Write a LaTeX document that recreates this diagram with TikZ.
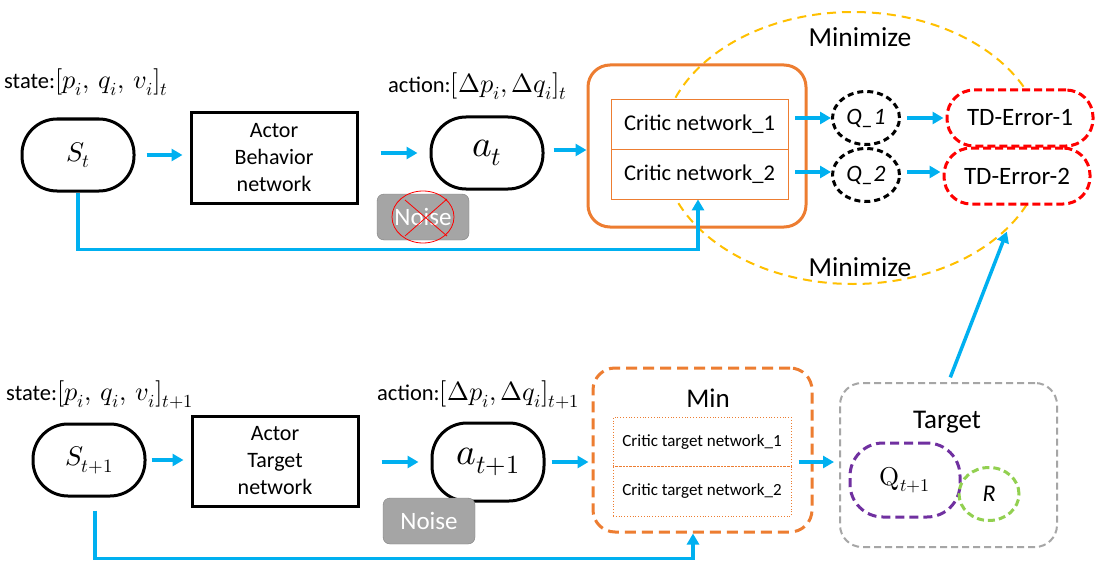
\documentclass[tikz,border=0pt]{standalone}
\usepackage{fontspec}
\usepackage{unicode-math}
\setmainfont{Carlito}
\setmathfont{Latin Modern Math}[Scale=1.17]
\usetikzlibrary{arrows.meta,shapes.geometric}
\definecolor{cblue}{HTML}{00B0F0}
\definecolor{corange}{HTML}{ED7D31}
\definecolor{cred}{HTML}{FF0000}
\definecolor{cyellow}{HTML}{FFC000}
\definecolor{cpurple}{HTML}{7030A0}
\definecolor{cgreen}{HTML}{92D050}
\definecolor{cgray}{HTML}{A6A6A6}
\definecolor{cnoise}{HTML}{A5A5A5}
\newcommand{\fs}[2]{\fontsize{#1}{#2}\selectfont}
\tikzset{
  pill/.style={draw=black, line width=3pt, rounded corners=35pt, minimum width=112pt, minimum height=72pt, inner sep=0pt},
  actorbox/.style={draw=black, line width=3pt, minimum width=166pt, minimum height=90pt, align=center, font=\fs{22}{27}},
  barrow/.style={draw=cblue, line width=3.5pt, -{Triangle[length=11pt,width=12pt]}},
  noisebox/.style={draw=gray, fill=cnoise, rounded corners=7pt, minimum width=92pt, minimum height=46pt, text=white, font=\fs{25}{28}},
  qnode/.style={draw=black, line width=3pt, dash pattern=on 6pt off 4pt, ellipse, minimum width=67pt, minimum height=53pt, inner sep=0pt, font=\fs{23.5}{26}\itshape},
  tdnode/.style={draw=cred, fill=white, line width=3pt, dash pattern=on 8pt off 4pt, rounded corners=27pt, minimum width=146pt, minimum height=56pt, font=\fs{25}{28}},
  critic/.style={draw=corange, fill=white, line width=0.8pt, minimum width=177pt, minimum height=50pt, font=\fs{22.5}{25}},
  ctarget/.style={draw=corange, fill=white, line width=0.8pt, dotted, minimum width=178pt, minimum height=49.5pt, font=\fs{17}{20}},
  lbl/.style={font=\fs{22.5}{26}, inner sep=0pt},
}
\begin{document}
\begin{tikzpicture}[x=1pt,y=-1pt]
\useasboundingbox (0,0) rectangle (1099,567);
\fill[white] (0,0) rectangle (1099,567);

% yellow minimize ellipse
\draw[cyellow, line width=2pt, dash pattern=on 9pt off 6pt] (853,148) ellipse [x radius=191, y radius=136];
\node[lbl, font=\fs{27.5}{31}] (min1) at (860,37) {Minimize};
\node[lbl, font=\fs{27.5}{31}] (min2) at (860,267) {Minimize};

% ---------- top row ----------
\node[lbl, anchor=west] (slab) at (4,82) {state:$[p_i,\,q_i,\,v_i]_t$};
\node[pill, font=\fs{23}{28}] (st) at (78,155) {$S_t$};
\node[actorbox] (ab) at (274,158) {Actor\\Behavior\\network};
\node[lbl, anchor=west] (alab) at (388,86) {action:$[\Delta p_i,\Delta q_i]_t$};
\node[pill, font=\fs{32}{36}] (at) at (487,153) {$a_t$};
\node[noisebox] (n1) at (423,217) {Noise};
\draw[cred, line width=0.8pt] (n1.center) ellipse [x radius=31, y radius=26];
\draw[cred, line width=0.8pt] (405,200) -- (447,236) (447,199) -- (405,236);

\node[draw=corange, line width=3pt, rounded corners=22pt, minimum width=218pt, minimum height=162pt] (crit) at (697,146) {};
\node[critic] (cn1) at (699.5,124) {Critic network\_1};
\node[critic] (cn2) at (699.5,174) {Critic network\_2};

\node[qnode] (q1) at (866,118) {Q\_1};
\node[qnode] (q2) at (866,175) {Q\_2};
\node[tdnode] (td1) at (1020,118) {TD-Error-1};
\node[tdnode] (td2) at (1017,176) {TD-Error-2};

\draw[barrow, shorten <=11pt, shorten >=7pt] (st.east) -- (ab.west |- st.east);
\draw[barrow, shorten <=22pt, shorten >=12pt] (ab.east |- at.west) -- (at.west);
\draw[barrow, shorten <=9pt] ([yshift=3pt]at.east) -- ([yshift=3pt]crit.west |- at.east);
\draw[barrow, shorten <=7pt] (cn1.east |- q1.west) -- (q1.west);
\draw[barrow, shorten <=7pt] ([yshift=3pt]cn2.east |- q2.west) -- ([yshift=3pt]q2.west);
\draw[barrow, shorten <=6pt, shorten >=2pt] (q1.east) -- (td1.west |- q1.east);
\draw[barrow, shorten <=6pt, shorten >=2pt] ([yshift=3pt]q2.east) -- ([yshift=3pt]td2.west |- q2.east);
\draw[barrow] (st.south) |- ([xshift=-1.5pt,yshift=-50pt]cn2.south) -- ([xshift=-1.5pt]cn2.south);

% ---------- bottom row ----------
\node[lbl, anchor=west] (slab2) at (6,395) {state:$[p_i,\,q_i,\,v_i]_{t+1}$};
\node[pill, font=\fs{23}{28}] (st1) at (89,460) {$S_{t+1}$};
\node[actorbox] (at2) at (275,461) {Actor\\Target\\network};
\node[lbl, anchor=west] (alab2) at (377,395) {action:$[\Delta p_i,\Delta q_i]_{t+1}$};
\node[pill, font=\fs{32}{36}, minimum height=78pt] (a1) at (488,462) {$a_{t+1}$};
\node[noisebox] (n2) at (429,521) {Noise};

\node[draw=corange, line width=3pt, dash pattern=on 11pt off 6pt, rounded corners=22pt, minimum width=219pt, minimum height=164pt] (minb) at (702.5,450) {};
\node[lbl, font=\fs{27}{31}] (mintxt) at (708,398) {Min};
\node[ctarget] (ct1) at (702,442) {Critic target network\_1};
\node[ctarget] (ct2) at (702,491.5) {Critic target network\_2};

\node[draw=cgray, line width=2pt, dash pattern=on 7pt off 4pt, rounded corners=22pt, minimum width=217pt, minimum height=164pt] (tgt) at (948.5,465) {};
\node[lbl, font=\fs{27}{31}] (tgttxt) at (947,422) {Target};
\node[draw=cpurple, line width=3pt, dash pattern=on 9pt off 5pt, rounded corners=33pt, minimum width=110pt, minimum height=74pt, font=\fs{22}{26}] (qt) at (905,480) {$\symup{Q}_{t+1}$};
\node[draw=cgreen, line width=3pt, dash pattern=on 7pt off 4pt, ellipse, minimum width=60pt, minimum height=53pt, inner sep=0pt, font=\fs{24}{28}\itshape] (r) at (989,494) {R};

\draw[barrow, shorten <=5pt, shorten >=7pt] (st1.east) -- (at2.west |- st1.east);
\draw[barrow, shorten <=22pt, shorten >=12pt] (at2.east |- a1.west) -- (a1.west);
\draw[barrow, shorten <=6pt, shorten >=3pt] (a1.east) -- (minb.west |- a1.east);
\draw[barrow] ([xshift=-15pt,yshift=-12pt]minb.east) -- ([xshift=-5pt,yshift=3pt]tgt.west);
\draw[barrow] ([xshift=6pt,yshift=-13pt]st1.south) |- ([xshift=-9.5pt,yshift=-25pt]minb.south) -- ([xshift=-9.5pt]minb.south);
\draw[barrow, shorten <=5pt, shorten >=28pt] (tgt.north) -- (td2.south);
\end{tikzpicture}
\end{document}
